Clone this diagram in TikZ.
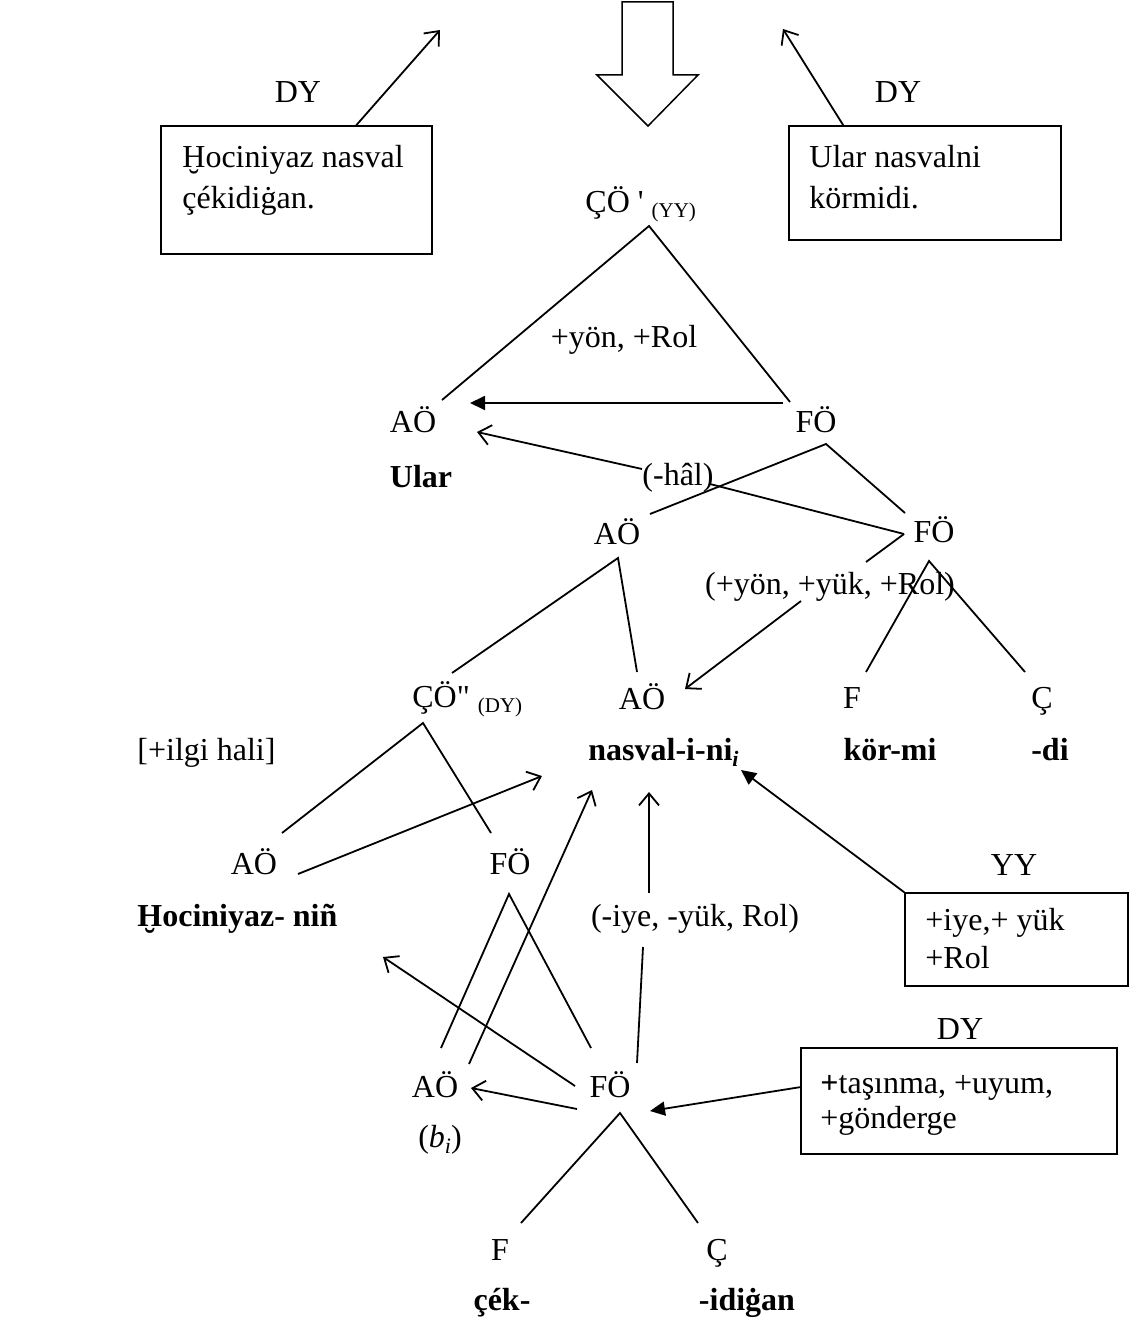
\documentclass[tikz,border=0pt]{standalone}
\usepackage{fontspec}
\setmainfont{Liberation Serif}
\newfontfamily\rawserif{Liberation Serif}
\usetikzlibrary{arrows.meta}
\newcommand{\smallsub}[1]{\raisebox{-2.5pt}{\fontsize{10.5}{12}\selectfont #1}}
\newcommand{\isub}{\raisebox{-3pt}{\fontsize{11}{12}\selectfont\itshape i}}
\begin{document}
\begin{tikzpicture}[x=0.5pt,y=-0.5pt,
  lbl/.style={inner sep=0pt,font=\fontsize{16}{19}\selectfont},
  bld/.style={inner sep=0pt,font=\fontsize{16}{19}\selectfont\bfseries},
  ln/.style={line width=0.9pt},
  oarr/.style={ln,-{Straight Barb[length=6pt,width=10pt]}},
  farr/.style={ln,-{Triangle[length=7.5pt,width=7pt]}},
  textbox/.style={draw,line width=0.75pt,inner sep=0pt}]
\useasboundingbox (0,0) rectangle (1129,1327);

% ---------- top ----------
\node[lbl] (dyL) at (298,92) {DY};
\node[lbl] (dyR) at (898,92) {DY};
\node[textbox,minimum width=135.5pt,minimum height=64pt] (boxL) at (296.5,190) {};
\node[lbl,anchor=base west] (tL1) at (182,167) {Ḫociniyaz nasval};
\node[lbl,anchor=base west] (tL2) at (182,208) {çékidiġan.};
\node[textbox,minimum width=136pt,minimum height=57pt] (boxR) at (925,183) {};
\node[lbl,anchor=base west] (tR1) at (809,167) {Ular nasvalni};
\node[lbl,anchor=base west] (tR2) at (809,208) {körmidi.};
\coordinate (tipL) at (440,30);
\coordinate (tipR) at (783,29);
\draw[oarr] ([xshift=98pt]boxL.north west) -- (tipL);
\draw[oarr] ([xshift=27.5pt]boxR.north west) -- (tipR);
\draw[line width=0.75pt] (622,2) -- (673,2) -- (673,75) -- (698,75) -- (648,126) -- (597,75) -- (622,75) -- cycle;

% ---------- CO' triangle ----------
\node[lbl,anchor=base west] (cop) at (585,212) {ÇÖ {\rawserif'} \smallsub{(YY)}};
\coordinate (copA) at (649,226);
\coordinate (ao1R) at (442,400);
\coordinate (fo1L) at (790,402);
\draw[ln] (ao1R) -- (copA) -- (fo1L);
\node[lbl] (fl1) at (624,340) {+yön, +Rol};
\node[lbl] (ao1) at (413,420) {AÖ};
\node[lbl] (fo1) at (816,420) {FÖ};
\node[bld] (ular) at (421,477) {Ular};
\coordinate (fo1W) at (783,403);
\coordinate (ao1E) at (470,403);
\draw[farr] (fo1W) -- (ao1E);

% ---------- (-hal) ----------
\node[lbl] (hal) at (678,478) {(-hâl)};
\coordinate (fo2W) at (904,534);
\coordinate (halR) at (710,484);
\coordinate (halL) at (642,469);
\coordinate (ao1T) at (477,432);
\draw[ln] (fo2W) -- (halR);
\draw[oarr] (halL) -- (ao1T);

% ---------- (+yon,+yuk,+Rol) ----------
\node[lbl] (fl2) at (830,587) {(+yön, +yük, +Rol)};
\coordinate (fl2R) at (866,562);
\coordinate (fl2L) at (801,601);
\coordinate (ao3T) at (685,689);
\draw[ln] (fo2W) -- (fl2R);
\draw[oarr] (fl2L) -- (ao3T);

% ---------- FO1 subtree ----------
\coordinate (fo1A) at (826,444);
\coordinate (ao2E) at (650,514);
\coordinate (fo2N) at (905,513);
\draw[ln] (ao2E) -- (fo1A) -- (fo2N);
\node[lbl] (ao2) at (617,532) {AÖ};
\node[lbl] (fo2) at (934,530) {FÖ};

\coordinate (ao2A) at (618,558);
\coordinate (co2E) at (452,673);
\coordinate (ao3N) at (637,672);
\draw[ln] (co2E) -- (ao2A) -- (ao3N);
\coordinate (fo2A) at (929,561);
\coordinate (fN) at (866,672);
\coordinate (cN) at (1025,672);
\draw[ln] (fN) -- (fo2A) -- (cN);

% ---------- row CO'' ----------
\node[lbl,anchor=base west] (co2) at (412,707) {ÇÖ{\rawserif"} \smallsub{(DY)}};
\node[lbl] (ao3) at (642,697) {AÖ};
\node[lbl,anchor=base] (f1) at (852,708) {F};
\node[lbl,anchor=base] (c1) at (1042,708) {Ç};
\node[lbl,anchor=base west] (ilgi) at (137,760) {[+ilgi hali]};
\node[bld,anchor=base west] (nasval) at (588,760) {nasval-i-ni\isub};
\node[bld,anchor=base] (kormi) at (890,760) {kör-mi};
\node[bld,anchor=base] (di) at (1050,760) {-di};

\coordinate (co2A) at (423,723);
\coordinate (ao4N) at (282,833);
\coordinate (fo3N) at (491,833);
\draw[ln] (ao4N) -- (co2A) -- (fo3N);
\node[lbl] (ao4) at (254,862) {AÖ};
\node[lbl] (fo3) at (510,862) {FÖ};
\node[bld,anchor=base west] (hoc) at (137,926) {Ḫociniyaz- niñ};
\coordinate (ao4E) at (298,874);
\coordinate (nasT1) at (542,776);
\draw[oarr] (ao4E) -- (nasT1);

% ---------- YY box ----------
\node[lbl] (yy) at (1014,865) {YY};
\node[textbox,minimum width=111.5pt,minimum height=46.5pt] (boxY) at (1016.5,939.5) {};
\node[lbl,anchor=base west] (tY1) at (925,930) {+iye,+ yük};
\node[lbl,anchor=base west] (tY2) at (925,968) {+Rol};
\coordinate (nasT2) at (741,770);
\draw[farr] (boxY.north west) -- (nasT2);

% ---------- (-iye, -yuk, Rol) ----------
\node[lbl] (fl3) at (695,919) {(-iye, -yük, Rol)};
\coordinate (fo4N) at (637,1063);
\coordinate (fl3B) at (643,947);
\coordinate (fl3T) at (649,893);
\coordinate (nasT3) at (649,792);
\draw[ln] (fo4N) -- (fl3B);
\draw[oarr] (fl3T) -- (nasT3);

% ---------- FO3 subtree ----------
\coordinate (fo3A) at (509,894);
\coordinate (ao5N) at (441,1048);
\coordinate (fo4NW) at (591,1048);
\draw[ln] (ao5N) -- (fo3A) -- (fo4NW);
\node[lbl] (ao5) at (435,1085) {AÖ};
\node[lbl] (fo4) at (610,1085) {FÖ};
\coordinate (ao5NE) at (469,1064);
\coordinate (nasT4) at (592,790);
\draw[oarr] (ao5NE) -- (nasT4);
\coordinate (fo4W) at (575,1086);
\coordinate (hocT) at (383,957);
\draw[oarr] (fo4W) -- (hocT);
\coordinate (fo4SW) at (577,1109);
\coordinate (ao5E) at (471,1088);
\draw[oarr] (fo4SW) -- (ao5E);
\node[lbl] (bi) at (440,1140) {(\textit{b}\isub)};

% ---------- DY box ----------
\node[lbl] (dy3) at (960,1029) {DY};
\node[textbox,minimum width=158pt,minimum height=53pt] (boxD) at (959,1101) {};
\node[lbl,anchor=base west] (tD1) at (820,1093) {\textbf{+}taşınma, +uyum,};
\node[lbl,anchor=base west] (tD2) at (820,1128) {+gönderge};
\coordinate (boxDW) at (801,1087);
\coordinate (fo4E) at (650,1111);
\draw[farr] (boxDW) -- (fo4E);

% ---------- bottom ----------
\coordinate (fo4A) at (620,1113);
\coordinate (f2N) at (521,1223);
\coordinate (c2N) at (698,1223);
\draw[ln] (f2N) -- (fo4A) -- (c2N);
\node[lbl,anchor=base] (f2) at (500,1260) {F};
\node[lbl,anchor=base] (c2) at (717,1260) {Ç};
\node[bld] (cek) at (502,1303) {çék-};
\node[bld] (idigan) at (747,1303) {-idiġan};
\end{tikzpicture}
\end{document}
